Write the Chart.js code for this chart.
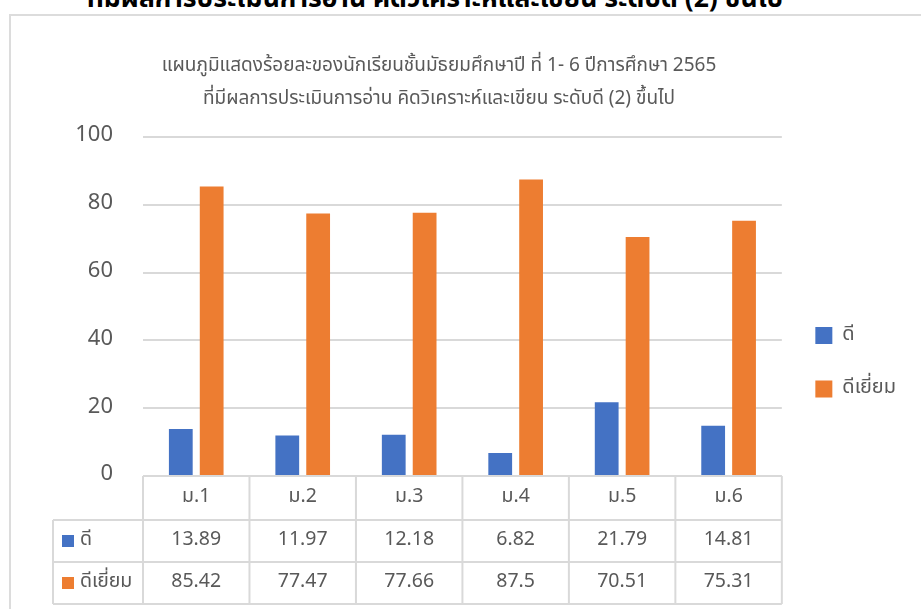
<!DOCTYPE html>
<html>
<head>
<meta charset="utf-8">
<script src="https://cdn.jsdelivr.net/npm/chart.js@4"></script>
<style>
  html, body { margin: 0; padding: 0; background: #fff; overflow: hidden; }
  body { width: 921px; height: 609px; position: relative; font-family: 'Noto Sans Thai', Tahoma, 'DejaVu Sans', sans-serif; }
  #heading { position: absolute; left: 0; top: -16px; width: 870px; text-align: center;
             font-size: 26.5px; line-height: 30px; font-weight: bold; color: #000; white-space: nowrap; }
  #frame { position: absolute; left: 9px; top: 14px; width: 940px; height: 640px;
           border: 2px solid #dcdcdc; box-sizing: border-box; }
  #wrap { position: absolute; left: 0; top: 0; width: 921px; height: 609px; }
</style>
</head>
<body>
<div id="heading">ที่มีผลการประเมินการอ่าน คิดวิเคราะห์และเขียน ระดับดี (2) ขึ้นไป</div>
<div id="frame"></div>
<div id="wrap"><canvas id="chart"></canvas></div>
<script>
const grades = ['ม.1', 'ม.2', 'ม.3', 'ม.4', 'ม.5', 'ม.6'];
const seriesNames = ['ดี', 'ดีเยี่ยม'];
const good = [13.89, 11.97, 12.18, 6.82, 21.79, 14.81];
const excellent = [85.42, 77.47, 77.66, 87.5, 70.51, 75.31];
const chartTitle = [
  'แผนภูมิแสดงร้อยละของนักเรียนชั้นมัธยมศึกษาปี ที่ 1- 6 ปีการศึกษา 2565',
  'ที่มีผลการประเมินการอ่าน คิดวิเคราะห์และเขียน ระดับดี (2) ขึ้นไป'
];

const fontFamily = "'Noto Sans Thai', Tahoma, 'DejaVu Sans', sans-serif";
const textGray = '#595959';
const lineGray = '#d9d9d9';
const colors = ['#4472C4', '#ED7D31'];

// data table under the plot, columns follow the x scale
const dataTable = {
  id: 'dataTable',
  afterDraw(chart) {
    const ctx = chart.ctx;
    const x = chart.scales.x;
    const area = chart.chartArea;
    const colW = (area.right - area.left) / grades.length;
    const top = area.bottom;
    const rows = [top, top + 44, top + 86, top + 128];
    const tableLeft = 53;
    const rowSets = [good, excellent];

    ctx.save();
    ctx.strokeStyle = lineGray;
    ctx.lineWidth = 2;
    ctx.beginPath();
    ctx.moveTo(area.left, rows[0]); ctx.lineTo(area.right, rows[0]);
    for (let r = 1; r < rows.length; r++) {
      ctx.moveTo(tableLeft, rows[r]); ctx.lineTo(area.right, rows[r]);
    }
    ctx.moveTo(tableLeft, rows[1]); ctx.lineTo(tableLeft, rows[3]);
    for (let i = 0; i <= grades.length; i++) {
      const cx = i < grades.length ? x.getPixelForValue(i) - colW / 2 : x.getPixelForValue(i - 1) + colW / 2;
      ctx.moveTo(cx, rows[0]); ctx.lineTo(cx, rows[3]);
    }
    ctx.stroke();

    ctx.fillStyle = textGray;
    ctx.textAlign = 'center';
    ctx.textBaseline = 'middle';
    ctx.font = '19.5px ' + fontFamily;
    grades.forEach((g, i) => {
      ctx.fillText(g, x.getPixelForValue(i), (rows[0] + rows[1]) / 2);
    });
    rowSets.forEach((vals, r) => {
      const cy = (rows[r + 1] + rows[r + 2]) / 2;
      vals.forEach((v, i) => {
        ctx.fillText(String(v), x.getPixelForValue(i), cy);
      });
      ctx.fillStyle = colors[r];
      ctx.fillRect(62, cy - 6, 12, 12);
      ctx.fillStyle = textGray;
      ctx.textAlign = 'left';
      ctx.fillText(seriesNames[r], 80, cy);
      ctx.textAlign = 'center';
    });
    ctx.restore();
  }
};

new Chart(document.getElementById('chart'), {
  type: 'bar',
  data: {
    labels: grades,
    datasets: [{
      label: seriesNames[0],
      data: good,
      backgroundColor: colors[0],
      categoryPercentage: 0.58,
      barPercentage: 0.77
    }, {
      label: seriesNames[1],
      data: excellent,
      backgroundColor: colors[1],
      categoryPercentage: 0.58,
      barPercentage: 0.77
    }]
  },
  options: {
    responsive: true,
    maintainAspectRatio: false,
    animation: false,
    // negative left padding only shifts the centred title, the axis width below keeps the plot at x=143
    layout: { padding: { left: -28, right: 15, top: 0, bottom: 133 } },
    scales: {
      x: {
        display: false
      },
      y: {
        min: 0,
        max: 100,
        ticks: { stepSize: 20, color: textGray, padding: 30, font: { size: 22, family: fontFamily } },
        grid: { color: lineGray, lineWidth: 2, drawTicks: false },
        border: { display: false },
        afterFit(scale) { scale.width = 171; }
      }
    },
    plugins: {
      title: {
        display: true,
        text: chartTitle,
        color: textGray,
        font: { size: 19, weight: 'normal', family: fontFamily, lineHeight: '33px' },
        padding: { top: 51, bottom: 20 }
      },
      legend: {
        position: 'right',
        align: 'start',
        fullSize: false,
        title: { display: true, text: '', padding: 0, font: { size: 10, lineHeight: '155px' } },
        labels: {
          color: textGray,
          boxWidth: 17,
          boxHeight: 17,
          padding: 33.5,
          font: { size: 20, family: fontFamily }
        }
      },
      tooltip: { enabled: false }
    }
  },
  plugins: [dataTable]
});
</script>
</body>
</html>
